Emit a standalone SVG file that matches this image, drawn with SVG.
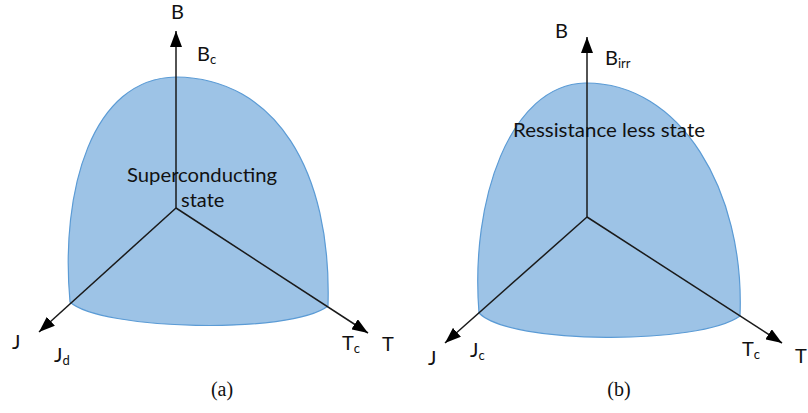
<svg xmlns="http://www.w3.org/2000/svg" width="808" height="413" viewBox="0 0 808 413">
<style>
.blob{fill:#9dc3e6;stroke:#5b9bd5;stroke-width:1.2}
.ax{stroke:#1a1a1a;stroke-width:1.5;fill:none}
.lbl{font-family:Lato,"Open Sans","Liberation Sans",sans-serif;font-size:20px;fill:#111}
.sub{font-size:13px}
.cap{font-family:"Liberation Serif","DejaVu Serif",serif;font-size:20px;fill:#111}
</style>
<defs>
<marker id="ah" viewBox="0 0 16 12" refX="16" refY="6" markerWidth="16" markerHeight="12" markerUnits="userSpaceOnUse" orient="auto">
<path d="M0,0 L16,6 L0,12 Z" fill="#000"/>
</marker>
</defs>
<g id="panel-a">
<path class="blob" d="M70,302 C60,190 92,78 176,77 C275,78 332,170 328,306 C290,335 100,330 70,302 Z"/>
</g>
<g id="panel-b">
<path class="blob" d="M479,313 C470,200 510,85 585,83 C680,82 745,190 740,316 C700,345 510,345 479,313 Z"/>
</g>
<g id="connectors">
<line class="ax" x1="176" y1="208" x2="176" y2="31" marker-end="url(#ah)"/>
<line class="ax" x1="176" y1="208" x2="39" y2="332" marker-end="url(#ah)"/>
<line class="ax" x1="176" y1="208" x2="368" y2="333" marker-end="url(#ah)"/>
<line class="ax" x1="587" y1="217" x2="587" y2="37" marker-end="url(#ah)"/>
<line class="ax" x1="587" y1="217" x2="445" y2="343" marker-end="url(#ah)"/>
<line class="ax" x1="587" y1="217" x2="782" y2="343" marker-end="url(#ah)"/>
</g>
<g id="labels-a">
<text class="lbl" x="171" y="19">B</text>
<text class="lbl" x="197" y="61">B<tspan class="sub" dy="3">c</tspan></text>
<text class="lbl" x="127" y="182" textLength="150" lengthAdjust="spacingAndGlyphs">Superconducting</text>
<text class="lbl" x="181" y="207">state</text>
<text class="lbl" x="12" y="349">J</text>
<text class="lbl" x="54" y="362">J<tspan class="sub" dy="3">d</tspan></text>
<text class="lbl" x="342" y="350">T<tspan class="sub" dy="3">c</tspan></text>
<text class="lbl" x="382" y="351">T</text>
<text class="cap" x="222" y="396" text-anchor="middle">(a)</text>
</g>
<g id="labels-b">
<text class="lbl" x="555" y="38">B</text>
<text class="lbl" x="605" y="65">B<tspan class="sub" dy="3">irr</tspan></text>
<text class="lbl" x="513" y="137" textLength="192" lengthAdjust="spacingAndGlyphs">Ressistance less state</text>
<text class="lbl" x="428" y="365">J</text>
<text class="lbl" x="470" y="357">J<tspan class="sub" dy="3">c</tspan></text>
<text class="lbl" x="742" y="356">T<tspan class="sub" dy="3">c</tspan></text>
<text class="lbl" x="795" y="363">T</text>
<text class="cap" x="619" y="396" text-anchor="middle">(b)</text>
</g>
</svg>
